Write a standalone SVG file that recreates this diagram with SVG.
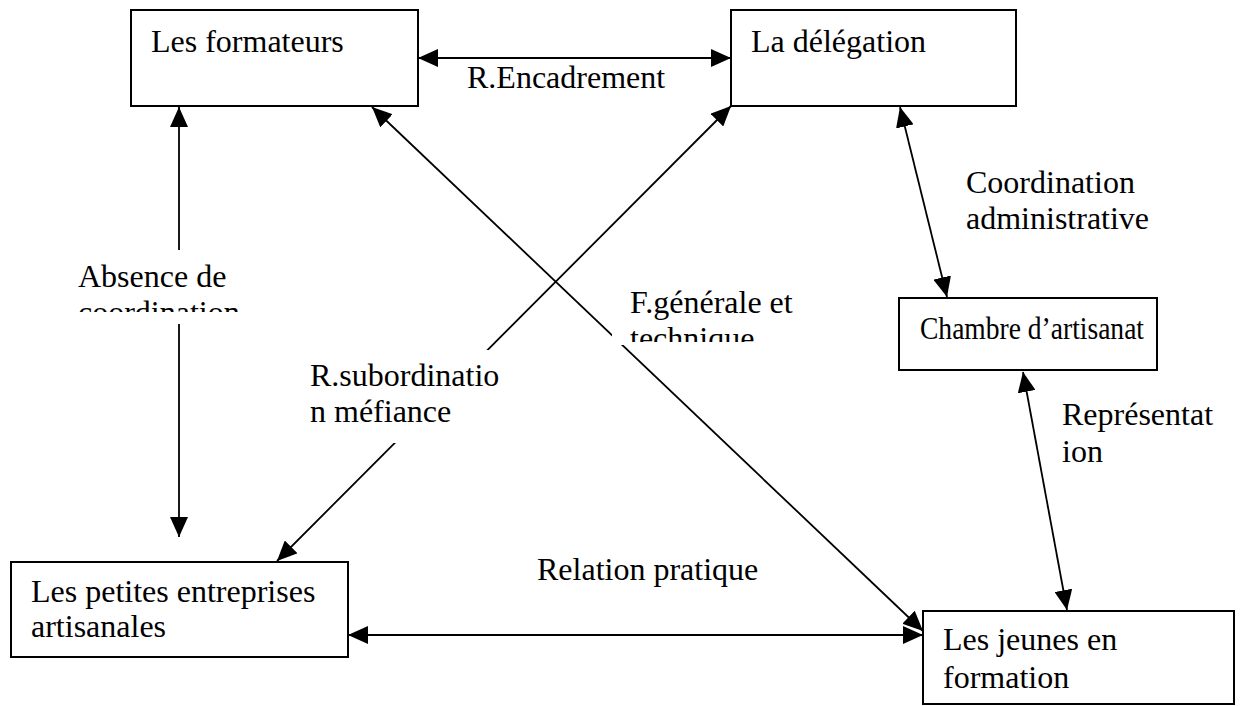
<svg xmlns="http://www.w3.org/2000/svg" width="1242" height="706" viewBox="0 0 1242 706">
<style>
text{font-family:"Liberation Serif","Times New Roman",serif;font-size:32px;fill:#000}
.box{fill:#fff;stroke:#000;stroke-width:2}
.edge{stroke:#000;stroke-width:1.8;fill:none;marker-start:url(#ah);marker-end:url(#ah)}
.bg{fill:#fff;stroke:none}
</style>
<defs>
<marker id="ah" markerUnits="userSpaceOnUse" markerWidth="21" markerHeight="18" viewBox="0 0 21 18" refX="20" refY="9" orient="auto-start-reverse">
<path d="M0,0 L20,9 L0,18 z" fill="#000"/>
</marker>
<clipPath id="c1"><rect x="60" y="250" width="200" height="62"/></clipPath>
<clipPath id="c2"><rect x="612" y="285" width="200" height="57"/></clipPath>
</defs>
<rect width="1242" height="706" fill="#fff"/>
<g id="connectors">
<line class="edge" x1="418" y1="58" x2="731" y2="58"/>
<line class="edge" x1="179" y1="107" x2="179" y2="537"/>
<line class="edge" x1="372" y1="107" x2="923" y2="631"/>
<line class="edge" x1="731" y1="106" x2="277" y2="561"/>
<line class="edge" x1="900" y1="107" x2="947" y2="297"/>
<line class="edge" x1="1023" y1="372" x2="1067" y2="610"/>
<line class="edge" x1="348" y1="635" x2="923" y2="635"/>
</g>
<g id="labels">
<text x="467" y="88">R.Encadrement</text>
<text x="966" y="193">Coordination</text>
<text x="966" y="229">administrative</text>
<rect class="bg" x="70" y="250" width="180" height="74"/>
<g clip-path="url(#c1)">
<text x="78" y="287">Absence de</text>
<text x="78" y="323">coordination</text>
</g>
<rect class="bg" x="612" y="286" width="190" height="59"/>
<g clip-path="url(#c2)">
<text x="630" y="313">F.générale et</text>
<text x="630" y="349">technique</text>
</g>
<rect class="bg" x="300" y="350" width="200" height="93"/>
<text x="310" y="386">R.subordinatio</text>
<text x="310" y="422">n méfiance</text>
<text x="1062" y="425">Représentat</text>
<text x="1062" y="462">ion</text>
<text x="537" y="580">Relation pratique</text>
</g>
<g id="n-formateurs">
<rect class="box" x="131" y="10" width="287" height="96"/>
<text x="151" y="52">Les formateurs</text>
</g>
<g id="n-delegation">
<rect class="box" x="731" y="10" width="285" height="96"/>
<text x="751" y="52">La délégation</text>
</g>
<g id="n-chambre">
<rect class="box" x="899" y="298" width="258" height="72"/>
<text x="920" y="339" textLength="224" lengthAdjust="spacingAndGlyphs">Chambre d’artisanat</text>
</g>
<g id="n-entreprises">
<rect class="box" x="11" y="562" width="337" height="95"/>
<text x="31" y="602">Les petites entreprises</text>
<text x="31" y="637">artisanales</text>
</g>
<g id="n-jeunes">
<rect class="box" x="923" y="611" width="311" height="93"/>
<text x="943" y="650">Les jeunes en</text>
<text x="943" y="688">formation</text>
</g>
</svg>
